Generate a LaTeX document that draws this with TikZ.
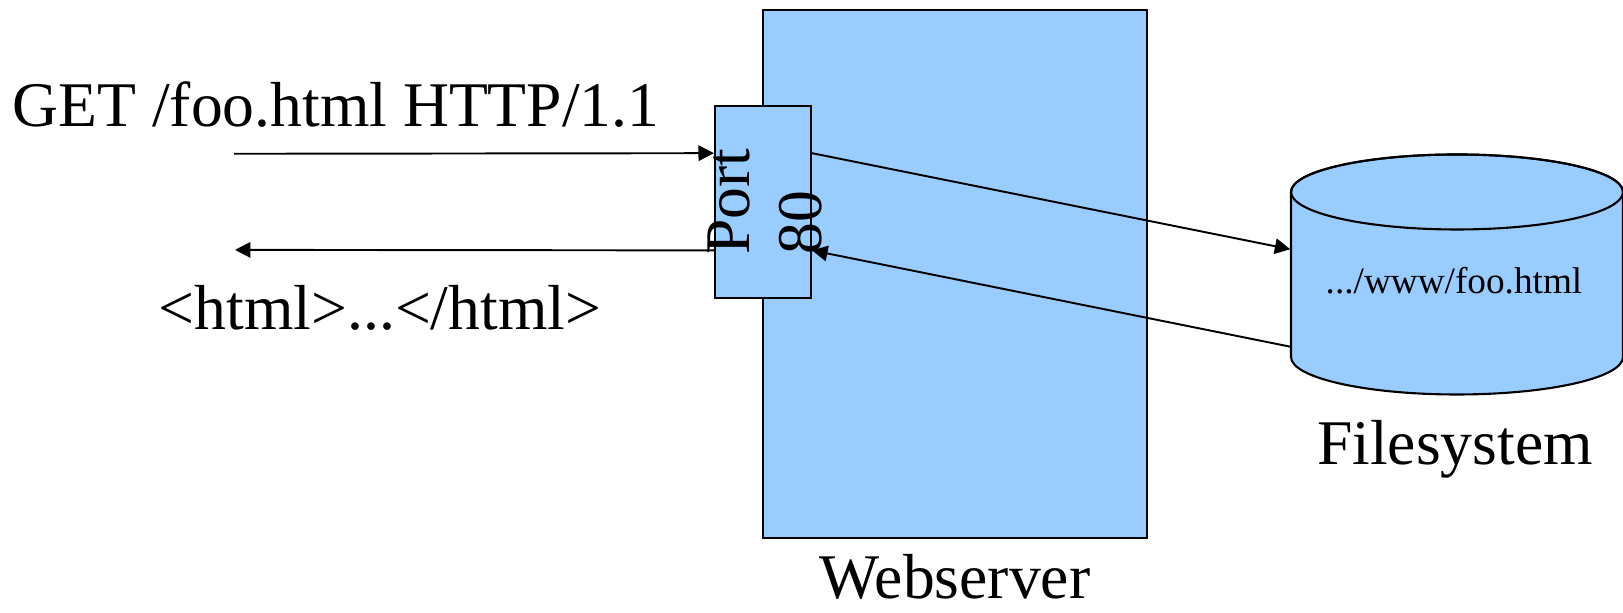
\documentclass[tikz,border=0pt]{standalone}
\usepackage{fontspec}
\setmainfont{Liberation Serif}
\usetikzlibrary{arrows.meta,calc}
\definecolor{boxblue}{HTML}{99CCFF}
\begin{document}
\begin{tikzpicture}[
  box/.style={draw=black, fill=boxblue, line width=0.6pt, inner sep=0pt},
  big/.style={font=\fontsize{18.1pt}{20.4pt}\selectfont, inner sep=0pt},
  small/.style={font=\fontsize{10.6pt}{12pt}\selectfont, inner sep=0pt},
  arr/.style={line width=0.55pt, -{Triangle[length=4.4pt,width=4.4pt]}},
]
\useasboundingbox (0,0) rectangle (16.23,6.13);
% webserver
\node[box, minimum width=3.843cm, minimum height=5.28cm] (ws) at (9.549,3.387) {};
\node[big, anchor=base] (wslabel) at (9.55,0.14) {Webserver};
% port
\node[box, minimum width=0.96cm, minimum height=1.923cm] (port) at (7.63,4.112) {};
\node[big, rotate=90, align=left] (porttxt) at (7.65,4.115) {Port\\80};
% filesystem cylinder
\path[box] (12.91,4.21) -- (12.91,2.56)
  arc[start angle=180,end angle=360,x radius=1.66cm,y radius=0.375cm]
  -- (16.23,4.21)
  arc[start angle=0,end angle=180,x radius=1.66cm,y radius=0.375cm] -- cycle;
\draw[line width=0.6pt] (14.57,4.21) ellipse [x radius=1.66cm, y radius=0.375cm];
\node[inner sep=0pt, minimum width=3.32cm, minimum height=2.39cm] (fs) at (14.57,3.385) {};
\node[small, anchor=base] (file) at (14.54,3.19) {.../www/foo.html};
\node[big, anchor=base] (fslabel) at (14.55,1.48) {Filesystem};
% texts left
\node[big, anchor=base] (req) at (3.36,4.86) {GET /foo.html HTTP/1.1};
\node[big, anchor=base] (resp) at (3.80,2.83) {<html>...</html>};
% coordinates
\coordinate (reqstart) at (2.34,4.592);
\coordinate (respend) at (2.35,3.631);
\coordinate (pin) at ($(port.north west)!0.25!(port.south west)$);
\coordinate (pout) at ($(port.north west)!0.75!(port.south west)$);
\coordinate (pe1) at ($(port.north east)!0.25!(port.south east)$);
\coordinate (pe2) at ($(port.north east)!0.75!(port.south east)$);
\coordinate (fsin) at ($(fs.west)+(0,0.252)$);
\coordinate (fsout) at ($(fs.west)+(0,-0.722)$);
% connectors
\draw[arr] (reqstart) -- (pin);
\draw[arr] (pout) -- (respend);
\draw[arr] (pe1) -- (fsin);
\draw[arr] (fsout) -- (pe2);
\end{tikzpicture}
\end{document}
